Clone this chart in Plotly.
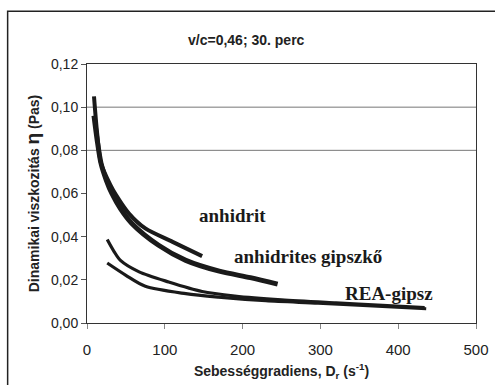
import plotly.graph_objects as go

# --- data ---
anhidrit_x = [9, 13, 18, 30, 37, 54, 75, 110, 148]
anhidrit_y = [0.105, 0.088, 0.074, 0.064, 0.0595, 0.0507, 0.0438, 0.0376, 0.031]

anhidrites_x = [9, 13, 18, 25, 32, 43, 58, 92, 127, 170, 210, 245]
anhidrites_y = [0.096, 0.085, 0.074, 0.066, 0.060, 0.053, 0.046, 0.036, 0.029, 0.024, 0.021, 0.018]

lower_x = [26, 35, 43, 67, 105, 148, 190, 250, 320, 380, 434]
lower_y = [0.0387, 0.033, 0.029, 0.0237, 0.019, 0.0146, 0.0125, 0.0107, 0.0093, 0.0082, 0.0071]

rea_x = [26, 50, 75, 127, 169, 230, 297, 361, 436]
rea_y = [0.0278, 0.0221, 0.017, 0.0136, 0.012, 0.0103, 0.0092, 0.0080, 0.0066]

label_texts = ["anhidrit", "anhidrites gipszkő", "REA-gipsz"]
label_x = [187, 284, 388]
label_y = [0.050, 0.031, 0.0138]

x_ticks = [0, 100, 200, 300, 400, 500]
y_ticks = [0.00, 0.02, 0.04, 0.06, 0.08, 0.10, 0.12]
grid_y = [0.08, 0.10]

title = "v/c=0,46; 30. perc"

fig = go.Figure()
line_col = "#1a1a1a"
for xs, ys, w, name in [
    (anhidrit_x, anhidrit_y, 4, "anhidrit"),
    (anhidrites_x, anhidrites_y, 5, "anhidrites gipszkő"),
    (lower_x, lower_y, 3.2, "gipsz"),
    (rea_x, rea_y, 3.2, "REA-gipsz"),
]:
    fig.add_trace(go.Scatter(x=xs, y=ys, mode="lines", name=name,
                             line=dict(color=line_col, width=w, shape="spline", smoothing=0.8),
                             showlegend=False))

for t, lx, ly in zip(label_texts, label_x, label_y):
    fig.add_annotation(x=lx, y=ly, text="<b>%s</b>" % t, showarrow=False,
                       font=dict(family="Liberation Serif", size=19, color="#1a1a1a"),
                       xanchor="center", yanchor="middle")

shapes = []
for gy in grid_y:
    shapes.append(dict(type="line", xref="paper", x0=0, x1=1, yref="y", y0=gy, y1=gy,
                       line=dict(color="#777777", width=1), layer="below"))
# outer chart border
shapes.append(dict(type="rect", xref="paper", yref="paper", x0=-0.204, x1=1.08, y0=-0.3, y1=1.204,
                   line=dict(color="#222222", width=1.5)))

fig.update_layout(
    width=495, height=385,
    margin=dict(l=87, r=19, t=64, b=62),
    paper_bgcolor="white", plot_bgcolor="white",
    font=dict(family="Liberation Sans, Arial", color="#222222", size=14),
    shapes=shapes,
    annotations=list(fig.layout.annotations) + [
        dict(text="<b>%s</b>" % title, xref="paper", yref="paper", x=0.409, y=1.093,
             showarrow=False, xanchor="center", yanchor="middle",
             font=dict(size=14, color="#222222")),
    ],
)
fig.update_xaxes(range=[0, 500], tickvals=x_ticks, ticktext=[str(v) for v in x_ticks],
                 showgrid=False, zeroline=False, showline=True, linecolor="#333333", linewidth=1,
                 mirror=True, ticks="outside", ticklen=5, tickcolor="#888888",
                 tickfont=dict(size=15), ticklabelstandoff=8, automargin=False,
                 title=dict(text="<b>Sebességgradiens, D<sub>r</sub> (s<sup>-1</sup>)</b>",
                            font=dict(size=14), standoff=9))
fig.update_yaxes(range=[0, 0.12], tickvals=y_ticks,
                 ticktext=[("%.2f" % v).replace(".", ",") for v in y_ticks],
                 showgrid=False, zeroline=False, showline=True, linecolor="#333333", linewidth=1,
                 mirror=True, ticks="outside", ticklen=5, tickcolor="#555555",
                 tickfont=dict(size=14), automargin=False,
                 title=dict(text="<b>Dinamikai viszkozitás <span style='font-size:19px'>η</span> (Pas)</b>",
                            font=dict(size=14), standoff=8))

fig.write_html("out.html")
